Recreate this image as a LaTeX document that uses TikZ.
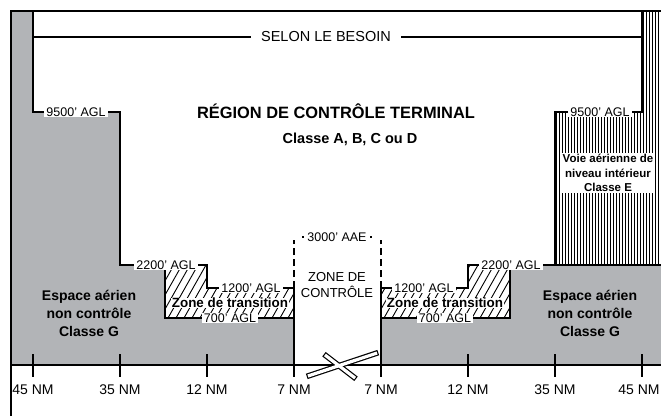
\documentclass[tikz,border=0pt]{standalone}
\usepackage{fontspec}
\setmainfont{Liberation Sans}
\usepackage{xcolor}
\definecolor{ground}{HTML}{B2B4B7}
\definecolor{ink}{HTML}{000000}

\begin{document}
\begin{tikzpicture}[
		x=1pt, y=-1pt,
		boundary/.style={line width=2pt, ink},
		hatchline/.style={line width=0.9pt, ink},
		altlabel/.style={fill=white, inner xsep=2pt, inner ysep=1pt, font=\fontsize{12.5}{14}\selectfont},
		zonetext/.style={align=center, font=\bfseries\fontsize{14}{18}\selectfont},
		ticklabel/.style={font=\fontsize{14}{16}\selectfont},
		breakbar/.style={draw=ink, line width=2.4pt, fill=white},
	]
		\useasboundingbox (0,0) rectangle (661,416);

		% Uncontrolled airspace (class G)
		\fill[ground] (11,11) -- (33,11) -- (33,112) -- (120,112) -- (120,265) -- (165,265) -- (165,318) -- (294,318) -- (294,365) -- (11,365) -- cycle;
		\fill[ground] (381,318) -- (510,318) -- (510,265) -- (661,265) -- (661,365) -- (381,365) -- cycle;

		% Low level airway hatching
		\begin{scope}
			\clip (642,11) -- (661,11) -- (661,265) -- (555,265) -- (555,112) -- (642,112) -- cycle;
			\foreach \xv in {556,559,...,661}
				\draw[hatchline] (\xv,11) -- (\xv,265);
		\end{scope}

		% Transition zone hatching
		\begin{scope}
			\clip (165,265) -- (207,265) -- (207,288) -- (294,288) -- (294,318) -- (165,318) -- cycle;
			\foreach \xv in {136,144,...,300}
				\draw[hatchline] (\xv,318) -- (\xv+30,265);
		\end{scope}
		\begin{scope}
			\clip (381,288) -- (468,288) -- (468,265) -- (510,265) -- (510,318) -- (381,318) -- cycle;
			\foreach \xv in {352,360,...,516}
				\draw[hatchline] (\xv,318) -- (\xv+30,265);
		\end{scope}

		% Frame
		\draw[boundary, line width=2.5pt] (11,416) -- (11,11) -- (661,11);

		% Airspace boundaries
		\draw[boundary] (33,11) -- (33,112) -- (120,112) -- (120,265) -- (207,265) -- (207,288) -- (294,288) -- (294,365);
		\draw[boundary] (165,265) -- (165,318) -- (294,318);
		\draw[boundary] (642,11) -- (642,112) -- (555,112) -- (555,265);
		\draw[boundary] (661,265) -- (468,265) -- (468,288) -- (381,288) -- (381,365);
		\draw[boundary] (510,265) -- (510,318) -- (381,318);

		% Control zone, dashed upper part
		\draw[boundary, dash pattern=on 7pt off 4pt] (294,288) -- (294,240);
		\draw[boundary, dash pattern=on 7pt off 4pt] (381,288) -- (381,240);
		\draw[boundary, dash pattern=on 2pt off 66pt] (302,237) -- (372,237);

		% Upper limit
		\draw[boundary] (33,37) -- (642,37);
		\node[fill=white, inner xsep=10pt, font=\fontsize{14.5}{16}\selectfont] (besoin) at (326,37) {SELON LE BESOIN};

		% Distance axis
		\draw[boundary] (11,365) -- (661,365);
		\foreach \dist/\xv/\lx in {45/33/33, 35/120/120, 12/207/207, 7/294/294, 7/381/381, 12/468/468, 35/555/555, 45/642/639} {
			\draw[boundary] (\xv,354) -- (\xv,377);
			\node[ticklabel] (nm\xv) at (\lx,390) {\dist{} NM};
		}

		% Break symbol
		\draw[breakbar, rotate around={-37.5:(340,366.5)}] (321,364.9) rectangle (359,368.1);
		\draw[breakbar, rotate around={18.4:(342.5,364.5)}] (306,362.9) rectangle (379,366.1);
		\fill[white, rotate around={-37.5:(340,366.5)}] (321,364.9) rectangle (359,368.1);
		\fill[white, rotate around={18.4:(342.5,364.5)}] (306,362.9) rectangle (379,366.1);

		% Altitude labels
		\node[altlabel] (agl9500w) at (76,112) {9500' AGL};
		\node[altlabel] (agl9500e) at (600,112) {9500' AGL};
		\node[altlabel] (agl2200w) at (166,265) {2200' AGL};
		\node[altlabel] (agl2200e) at (511,265) {2200' AGL};
		\node[altlabel] (agl1200w) at (251,288) {1200' AGL};
		\node[altlabel] (agl1200e) at (424,288) {1200' AGL};
		\node[altlabel] (agl700w) at (230,318) {700' AGL};
		\node[altlabel] (agl700e) at (445,318) {700' AGL};
		\node[altlabel] (aae) at (337,237) {3000' AAE};

		% Zone names
		\node[font=\bfseries\fontsize{16.4}{18}\selectfont, anchor=base] (tma) at (336,118) {RÉGION DE CONTRÔLE TERMINAL};
		\node[font=\bfseries\fontsize{14.5}{18}\selectfont, anchor=base] (tmaclass) at (350,143) {Classe A, B, C ou D};
		\node[zonetext] (classgw) at (89,313) {Espace aérien\\non contrôle\\Classe G};
		\node[zonetext] (classge) at (590,313) {Espace aérien\\non contrôle\\Classe G};
		\node[zonetext, fill=white, inner sep=1pt, font=\bfseries\fontsize{11.5}{14.5}\selectfont] (airway) at (608,173) {Voie aérienne de\\niveau intérieur\\Classe E};
		\node[align=center, font=\fontsize{13}{16}\selectfont] (ctrlzone) at (337,285) {ZONE DE\\CONTRÔLE};
		\node[fill=white, inner sep=0.5pt, font=\bfseries\fontsize{13.4}{15}\selectfont] (transw) at (230,303) {Zone de transition};
		\node[fill=white, inner sep=0.5pt, font=\bfseries\fontsize{13.4}{15}\selectfont] (transe) at (445,303) {Zone de transition};
	\end{tikzpicture}
\end{document}
